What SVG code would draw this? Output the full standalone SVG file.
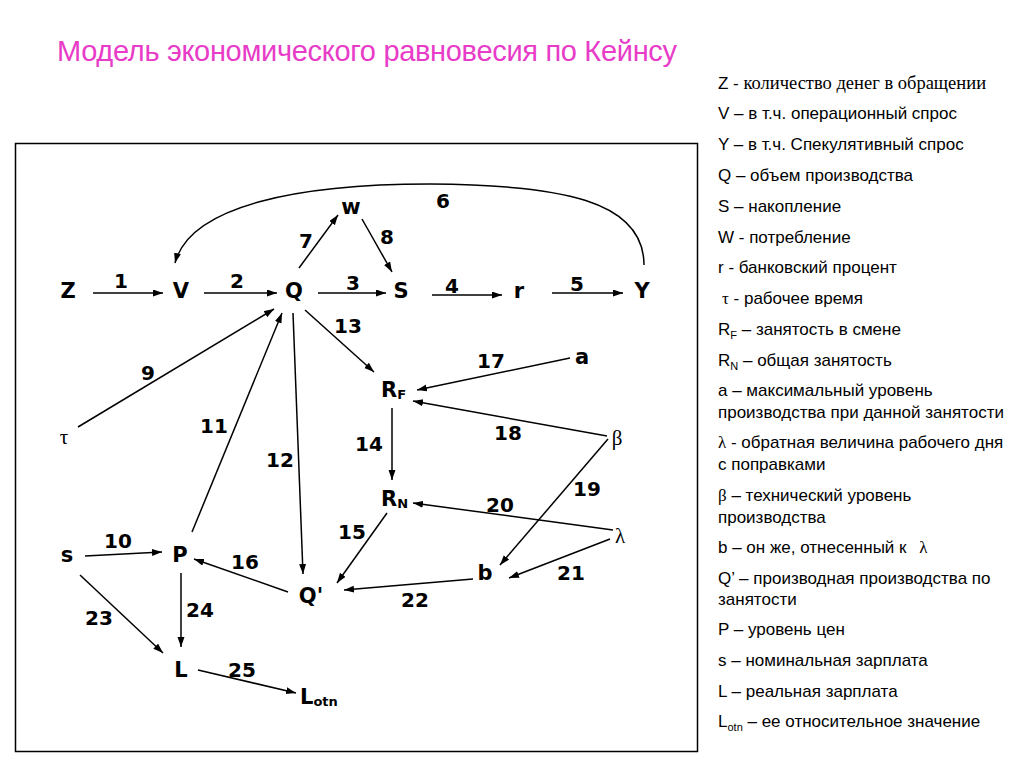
<svg xmlns="http://www.w3.org/2000/svg" width="1024" height="768" viewBox="0 0 1024 768">
<defs>
<marker id="ah" markerUnits="userSpaceOnUse" markerWidth="11" markerHeight="8" refX="10" refY="3.5" orient="auto">
<path d="M0,0 L10,3.5 L0,7 z" fill="#000"/>
</marker>
<style>
.n{font-family:"DejaVu Sans","Verdana",sans-serif;font-weight:bold;font-size:21px;fill:#000;text-anchor:middle}
.sub{font-size:13px}
.g{font-family:"Liberation Serif","Times New Roman",serif;font-size:21px;fill:#000;text-anchor:middle}
.e{font-family:"DejaVu Sans","Verdana",sans-serif;font-weight:bold;font-size:20px;fill:#000;text-anchor:middle}
.c{fill:none;stroke:#000;stroke-width:1.5;marker-end:url(#ah)}
.lg{font-family:"Liberation Sans",Arial,sans-serif;font-size:17px;fill:#000}
.lgs{font-family:"Liberation Serif","Times New Roman",serif}
.zt{font-size:18.5px}
.ls{font-size:11px}
.t{font-family:"Liberation Sans",Arial,sans-serif;font-size:29px;fill:#E83CC8}
</style>
</defs>
<rect width="1024" height="768" fill="#fff"/>
<text class="t" x="57" y="61" textLength="620">Модель экономического равновесия по Кейнсу</text>
<rect x="15.5" y="143.5" width="682" height="608" fill="none" stroke="#000" stroke-width="1.5"/>

<g id="connectors">
<g id="c1"><line class="c" x1="93" y1="293" x2="163" y2="293"/><text class="e" x="121" y="288">1</text></g>
<g id="c2"><line class="c" x1="204" y1="293" x2="277" y2="293"/><text class="e" x="237" y="288">2</text></g>
<g id="c3"><line class="c" x1="318" y1="293" x2="386" y2="293"/><text class="e" x="353" y="290">3</text></g>
<g id="c4"><line class="c" x1="432" y1="295" x2="502" y2="295"/><text class="e" x="452" y="293">4</text></g>
<g id="c5"><line class="c" x1="552" y1="293" x2="623" y2="293"/><text class="e" x="577" y="291">5</text></g>
<g id="c6"><path class="c" d="M644,265 C644,200 560,185 430,184 C300,184 190,205 175,263"/><text class="e" x="443" y="208">6</text></g>
<g id="c7"><line class="c" x1="299" y1="268" x2="338" y2="215"/><text class="e" x="306" y="248">7</text></g>
<g id="c8"><line class="c" x1="362" y1="219" x2="392" y2="272"/><text class="e" x="387" y="244">8</text></g>
<g id="c9"><line class="c" x1="78" y1="427" x2="274" y2="309"/><text class="e" x="148" y="380">9</text></g>
<g id="c10"><line class="c" x1="85" y1="556" x2="162" y2="552"/><text class="e" x="118" y="548">10</text></g>
<g id="c11"><line class="c" x1="192" y1="532" x2="282" y2="313"/><text class="e" x="214" y="433">11</text></g>
<g id="c12"><line class="c" x1="293" y1="313" x2="303" y2="574"/><text class="e" x="280" y="467">12</text></g>
<g id="c13"><line class="c" x1="305" y1="310" x2="374" y2="372"/><text class="e" x="348" y="333">13</text></g>
<g id="c14"><line class="c" x1="392" y1="408" x2="392" y2="480"/><text class="e" x="369" y="451">14</text></g>
<g id="c15"><line class="c" x1="387" y1="513" x2="337" y2="583"/><text class="e" x="352" y="539">15</text></g>
<g id="c16"><line class="c" x1="288" y1="592" x2="194" y2="559"/><text class="e" x="245" y="569">16</text></g>
<g id="c17"><line class="c" x1="570" y1="358" x2="417" y2="390"/><text class="e" x="491" y="368">17</text></g>
<g id="c18"><line class="c" x1="607" y1="436" x2="413" y2="401"/><text class="e" x="508" y="440">18</text></g>
<g id="c19"><line class="c" x1="608" y1="439" x2="500" y2="565"/><text class="e" x="587" y="496">19</text></g>
<g id="c20"><line class="c" x1="613" y1="530" x2="413" y2="503"/><text class="e" x="500" y="512">20</text></g>
<g id="c21"><line class="c" x1="610" y1="539" x2="509" y2="578"/><text class="e" x="571" y="580">21</text></g>
<g id="c22"><line class="c" x1="473" y1="579" x2="344" y2="590"/><text class="e" x="415" y="607">22</text></g>
<g id="c23"><line class="c" x1="80" y1="575" x2="163" y2="653"/><text class="e" x="99" y="625">23</text></g>
<g id="c24"><line class="c" x1="181" y1="573" x2="181" y2="647"/><text class="e" x="200" y="617">24</text></g>
<g id="c25"><line class="c" x1="198" y1="670" x2="296" y2="693"/><text class="e" x="242" y="677">25</text></g>
</g>

<g id="node-Z"><text class="n" x="68" y="298">Z</text></g>
<g id="node-V"><text class="n" x="181" y="298">V</text></g>
<g id="node-Q"><text class="n" x="294" y="298">Q</text></g>
<g id="node-S"><text class="n" x="401" y="298">S</text></g>
<g id="node-r"><text class="n" x="519" y="298">r</text></g>
<g id="node-Y"><text class="n" x="642" y="298">Y</text></g>
<g id="node-w"><text class="n" x="351" y="214">w</text></g>
<g id="node-tau"><text class="g" x="64" y="444">τ</text></g>
<g id="node-RF"><text class="n" x="381" y="397" style="text-anchor:start">R<tspan class="sub" dy="2">F</tspan></text></g>
<g id="node-a"><text class="n" x="582" y="364">a</text></g>
<g id="node-beta"><text class="g" x="617" y="445">β</text></g>
<g id="node-RN"><text class="n" x="381" y="506" style="text-anchor:start">R<tspan class="sub" dy="2">N</tspan></text></g>
<g id="node-lambda"><text class="g" x="620" y="543">λ</text></g>
<g id="node-s"><text class="n" x="67" y="562">s</text></g>
<g id="node-P"><text class="n" x="180" y="562">P</text></g>
<g id="node-Qp"><text class="n" x="311" y="603">Q'</text></g>
<g id="node-b"><text class="n" x="485" y="580">b</text></g>
<g id="node-L"><text class="n" x="181" y="677">L</text></g>
<g id="node-Lotn"><text class="n" x="300" y="704" style="text-anchor:start">L<tspan class="sub" dy="2">otn</tspan></text></g>

<g id="legend" class="lg">
<text x="718" y="89">Z - <tspan class="lgs zt">количество денег в обращении</tspan></text>
<text x="718" y="119">V – в т.ч. операционный спрос</text>
<text x="718" y="150">Y – в т.ч. Спекулятивный спрос</text>
<text x="718" y="181">Q – объем производства</text>
<text x="718" y="212">S – накопление</text>
<text x="718" y="243">W - потребление</text>
<text x="718" y="273">r -  банковский процент</text>
<text x="722" y="304"><tspan class="lgs">τ</tspan> - рабочее время</text>
<text x="718" y="335">R<tspan class="ls" dy="4">F</tspan><tspan dy="-4"> – занятость в смене</tspan></text>
<text x="718" y="366">R<tspan class="ls" dy="4">N</tspan><tspan dy="-4"> – общая занятость</tspan></text>
<text x="718" y="396">a – максимальный уровень</text>
<text x="718" y="418">производства при данной занятости</text>
<text x="718" y="448"><tspan class="lgs">λ</tspan> - обратная величина рабочего дня</text>
<text x="718" y="470">с поправками</text>
<text x="718" y="501"><tspan class="lgs">β</tspan> – технический уровень</text>
<text x="718" y="523">производства</text>
<text x="718" y="553">b – он же, отнесенный к <tspan class="lgs" dx="8">λ</tspan></text>
<text x="718" y="584">Q’ – производная производства по</text>
<text x="718" y="605">занятости</text>
<text x="718" y="635">P – уровень цен</text>
<text x="718" y="666">s – номинальная зарплата</text>
<text x="718" y="697">L – реальная зарплата</text>
<text x="718" y="727">L<tspan class="ls" dy="4">otn</tspan><tspan dy="-4"> – ее относительное значение</tspan></text>
</g>
</svg>
